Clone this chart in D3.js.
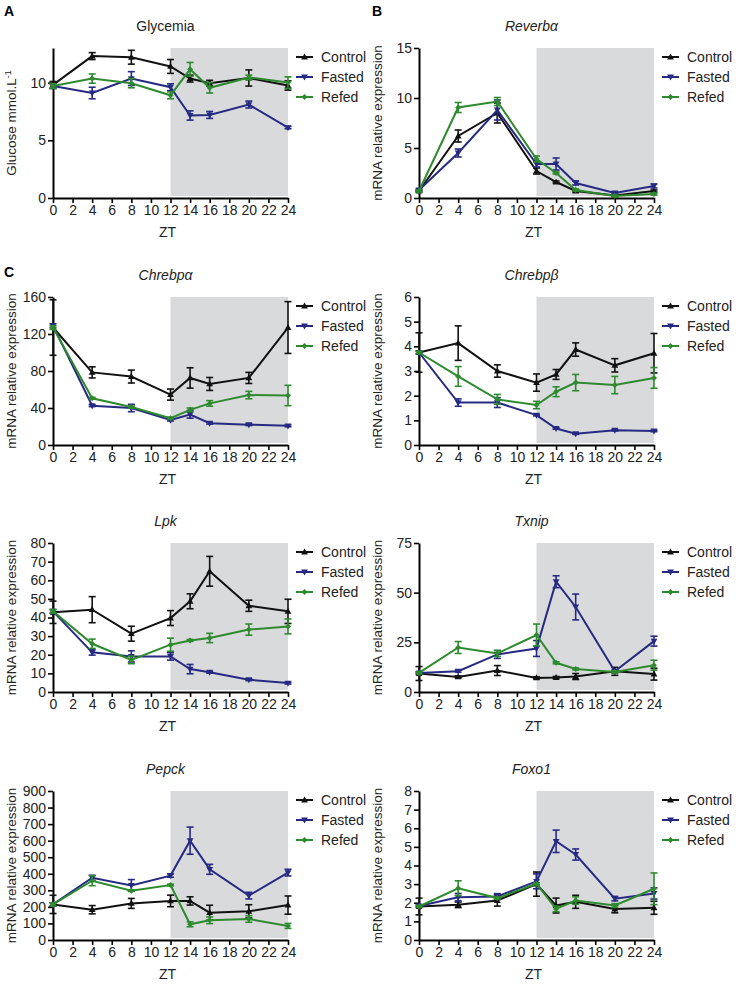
<!DOCTYPE html>
<html>
<head>
<meta charset="utf-8">
<script src="https://cdn.jsdelivr.net/npm/d3@7"></script>
<style>
  html, body { margin: 0; padding: 0; background: #fff; }
  svg { display: block; font-family: Arial, "Liberation Sans", Helvetica, sans-serif; }
</style>
</head>
<body>
<svg id="chart" width="736" height="997"></svg>
<script>
// ---------- DATA ----------
const zt = [0, 4, 8, 12, 14, 16, 20, 24];
const xTicks = [0, 2, 4, 6, 8, 10, 12, 14, 16, 18, 20, 22, 24];
const seriesNames = ["Control", "Fasted", "Refed"];

// Glycemia (mmol/L)
const glyControl    = [9.8, 12.3, 12.2, 11.4, 10.35, 9.95, 10.4, 9.75];
const glyControlErr = [0.3, 0.3, 0.6, 0.6, 0.3, 0.25, 0.7, 0.4];
const glyFasted     = [9.7, 9.1, 10.35, 9.6, 7.15, 7.2, 8.1, 6.1];
const glyFastedErr  = [0.2, 0.5, 0.6, 0.3, 0.4, 0.3, 0.3, 0.1];
const glyRefed      = [9.7, 10.35, 9.95, 8.9, 11.15, 9.55, 10.45, 10.0];
const glyRefedErr   = [0.2, 0.4, 0.4, 0.3, 0.6, 0.45, 0.2, 0.5];

// Reverbα
const revControl    = [0.7, 6.2, 8.5, 2.7, 1.6, 0.7, 0.25, 0.7];
const revControlErr = [0.1, 0.6, 1.0, 0.3, 0.1, 0.1, 0.1, 0.1];
const revFasted     = [0.8, 4.5, 8.8, 3.4, 3.4, 1.5, 0.5, 1.2];
const revFastedErr  = [0.1, 0.4, 1.0, 0.3, 0.6, 0.2, 0.1, 0.2];
const revRefed      = [0.7, 9.05, 9.65, 3.9, 2.5, 0.8, 0.2, 0.4];
const revRefedErr   = [0.1, 0.5, 0.4, 0.3, 0.1, 0.1, 0.1, 0.1];

// Chrebpα
const craControl    = [127, 78.5, 74, 54.5, 72.5, 66, 72.5, 127];
const craControlErr = [30, 6, 7, 6, 11, 7, 6, 28];
const craFasted     = [129, 42.5, 40, 27, 33, 23.6, 22, 20.7];
const craFastedErr  = [2, 1, 4, 1, 4, 1, 1, 1];
const craRefed      = [127, 50.5, 41, 29, 38, 45, 54, 53.5];
const craRefedErr   = [2, 1, 1, 1, 2, 3, 4, 11];

// Chrebpβ
const crbControl    = [3.75, 4.13, 3.0, 2.53, 2.86, 3.87, 3.23, 3.72];
const crbControlErr = [0.8, 0.7, 0.25, 0.35, 0.2, 0.27, 0.27, 0.8];
const crbFasted     = [3.75, 1.72, 1.72, 1.21, 0.67, 0.46, 0.6, 0.57];
const crbFastedErr  = [0.05, 0.15, 0.2, 0.03, 0.03, 0.03, 0.03, 0.03];
const crbRefed      = [3.75, 2.78, 1.85, 1.62, 2.16, 2.53, 2.43, 2.72];
const crbRefedErr   = [0.05, 0.4, 0.2, 0.15, 0.2, 0.33, 0.35, 0.42];

// Lpk
const lpkControl    = [42.8, 44.2, 31.3, 39.7, 48.7, 64.8, 46.3, 43.3];
const lpkControlErr = [6, 7, 4, 4, 4, 8, 3, 6.5];
const lpkFasted     = [43.3, 21.3, 19.1, 19.1, 12.3, 10.6, 6.6, 4.8];
const lpkFastedErr  = [1, 1.5, 3, 2, 2.5, 0.5, 0.5, 0.5];
const lpkRefed      = [43.3, 25.9, 17.2, 25.4, 27.7, 29.0, 33.5, 35.2];
const lpkRefedErr   = [1, 2.5, 2, 3.5, 0.5, 2.5, 3, 4];

// Txnip
const txnControl    = [9.3, 7.6, 10.8, 7.1, 7.3, 7.8, 10.4, 9.0];
const txnControlErr = [3.5, 0.5, 2.5, 0.5, 0.5, 1.5, 2, 3];
const txnFasted     = [9.6, 10.5, 18.9, 21.9, 55.5, 42.8, 10.4, 25.6];
const txnFastedErr  = [0.5, 0.5, 2, 4, 3, 6.5, 0.5, 2.5];
const txnRefed      = [9.6, 22.4, 19.4, 28.7, 14.7, 11.6, 10.1, 13.5];
const txnRefedErr   = [0.5, 3, 1.5, 5.5, 0.5, 0.5, 0.5, 2.5];

// Pepck
const pepControl    = [215, 183, 221, 236, 236, 165, 173, 211];
const pepControlErr = [55, 25, 30, 35, 25, 45, 40, 55];
const pepFasted     = [215, 376, 330, 389, 600, 427, 268, 407];
const pepFastedErr  = [10, 15, 35, 10, 82, 30, 20, 20];
const pepRefed      = [215, 358, 298, 332, 95, 119, 127, 85];
const pepRefedErr   = [10, 30, 5, 5, 15, 20, 20, 15];

// Foxo1
const foxControl    = [1.8, 1.89, 2.12, 3.0, 1.85, 2.05, 1.66, 1.73];
const foxControlErr = [0.45, 0.15, 0.3, 0.65, 0.4, 0.35, 0.2, 0.35];
const foxFasted     = [1.83, 2.3, 2.34, 3.15, 5.3, 4.59, 2.22, 2.5];
const foxFastedErr  = [0.05, 0.2, 0.15, 0.4, 0.6, 0.3, 0.12, 0.3];
const foxRefed      = [1.8, 2.78, 2.25, 3.02, 1.67, 2.12, 1.85, 2.75];
const foxRefedErr   = [0.05, 0.4, 0.05, 0.05, 0.15, 0.2, 0.1, 0.85];

// Panels
const panelTitles  = ["Glycemia", "Reverbα", "Chrebpα", "Chrebpβ", "Lpk", "Txnip", "Pepck", "Foxo1"];
const panelLetters = ["A", "B", "C", "", "", "", "", ""];
const yMaxes       = [13, 15, 160, 6, 80, 75, 900, 8];
const yTickSets    = [
  [0, 5, 10], [0, 5, 10, 15], [0, 40, 80, 120, 160], [0, 1, 2, 3, 4, 5, 6],
  [0, 10, 20, 30, 40, 50, 60, 70, 80], [0, 25, 50, 75],
  [0, 100, 200, 300, 400, 500, 600, 700, 800, 900], [0, 1, 2, 3, 4, 5, 6, 7, 8]
];
const panelValues = [
  [glyControl, glyFasted, glyRefed], [revControl, revFasted, revRefed],
  [craControl, craFasted, craRefed], [crbControl, crbFasted, crbRefed],
  [lpkControl, lpkFasted, lpkRefed], [txnControl, txnFasted, txnRefed],
  [pepControl, pepFasted, pepRefed], [foxControl, foxFasted, foxRefed]
];
const panelErrors = [
  [glyControlErr, glyFastedErr, glyRefedErr], [revControlErr, revFastedErr, revRefedErr],
  [craControlErr, craFastedErr, craRefedErr], [crbControlErr, crbFastedErr, crbRefedErr],
  [lpkControlErr, lpkFastedErr, lpkRefedErr], [txnControlErr, txnFastedErr, txnRefedErr],
  [pepControlErr, pepFastedErr, pepRefedErr], [foxControlErr, foxFastedErr, foxRefedErr]
];

// ---------- LAYOUT / STYLE ----------
const colors = { Control: "#111111", Fasted: "#262a82", Refed: "#2e8a2e" };
const colLeft = [53, 419];
const plotW = 235;
const rowTop = [48, 297, 543, 791];
const rowBottom = [198, 445, 692, 940];
const letterPos = [[4, 16], [372, 16], [4, 277]];
const darkStart = 12, darkEnd = 24;

const svg = d3.select("#chart");

function drawMarker(g, name, x, y, color) {
  if (name === "Control") {
    g.append("path").attr("d", `M${x},${y - 3.6}L${x + 3.4},${y + 2.4}L${x - 3.4},${y + 2.4}Z`).attr("fill", color);
  } else if (name === "Fasted") {
    g.append("path").attr("d", `M${x},${y + 3.6}L${x + 3.4},${y - 2.4}L${x - 3.4},${y - 2.4}Z`).attr("fill", color);
  } else {
    g.append("path").attr("d", `M${x},${y - 3}L${x + 3},${y}L${x},${y + 3}L${x - 3},${y}Z`).attr("fill", color);
  }
}

panelTitles.forEach((title, i) => {
  const col = i % 2, row = Math.floor(i / 2);
  const x0 = colLeft[col], x1 = x0 + plotW;
  const top = rowTop[row], bottom = rowBottom[row];
  const x = d3.scaleLinear().domain([0, 24]).range([x0, x1]);
  const y = d3.scaleLinear().domain([0, yMaxes[i]]).range([bottom, top]);
  const g = svg.append("g");

  // dark phase shading
  g.append("rect")
    .attr("x", x(darkStart)).attr("y", top)
    .attr("width", x(darkEnd) - x(darkStart)).attr("height", bottom - top - 2)
    .attr("fill", "#d9dadc");

  // axes
  const xAxis = d3.axisBottom(x).tickValues(xTicks).tickFormat(d3.format("d"))
    .tickSize(5).tickSizeOuter(0).tickPadding(2);
  const yAxis = d3.axisLeft(y).tickValues(yTickSets[i]).tickFormat(d3.format("d"))
    .tickSize(5).tickSizeOuter(0).tickPadding(2);
  const gx = g.append("g").attr("transform", `translate(0,${bottom})`).call(xAxis);
  const gy = g.append("g").attr("transform", `translate(${x0},0)`).call(yAxis);
  [gx, gy].forEach(a => {
    a.select(".domain").attr("stroke", "#000").attr("stroke-width", 2);
    a.selectAll(".tick line").attr("stroke", "#000").attr("stroke-width", 1.6);
    a.selectAll(".tick text").attr("fill", "#222").style("font-size", "14px");
  });

  // axis titles
  g.append("text").attr("x", (x0 + x1) / 2 - 3).attr("y", bottom + 39)
    .attr("text-anchor", "middle").style("font-size", "14px").attr("fill", "#222").text("ZT");
  const yl = g.append("text")
    .attr("transform", `translate(${x0 - 37},${(top + bottom) / 2}) rotate(-90)`)
    .attr("text-anchor", "middle").style("font-size", "13.5px").attr("fill", "#222");
  if (i === 0) {
    yl.append("tspan").text("Glucose mmol.L");
    yl.append("tspan").attr("dy", -5).style("font-size", "9px").text("-1");
  } else {
    yl.text("mRNA relative expression");
  }

  // panel title
  g.append("text").attr("x", (x0 + x1) / 2 - 5).attr("y", top - 17)
    .attr("text-anchor", "middle").style("font-size", "14px")
    .style("font-style", i === 0 ? "normal" : "italic").attr("fill", "#222").text(title);

  // panel letter
  if (panelLetters[i]) {
    g.append("text").attr("x", letterPos[i][0]).attr("y", letterPos[i][1])
      .style("font-size", "14px").style("font-weight", "bold").attr("fill", "#000").text(panelLetters[i]);
  }

  // series
  const line = d3.line().x((d, k) => x(zt[k])).y(d => y(d));
  seriesNames.forEach((name, s) => {
    const vals = panelValues[i][s], errs = panelErrors[i][s];
    const color = colors[name];
    const sg = g.append("g");
    sg.append("path").datum(vals).attr("d", line)
      .attr("fill", "none").attr("stroke", color).attr("stroke-width", 2);
    vals.forEach((v, k) => {
      const cx = x(zt[k]);
      const e = errs[k];
      const yHi = y(Math.min(v + e, yMaxes[i])), yLo = y(Math.max(v - e, 0));
      sg.append("line").attr("x1", cx).attr("x2", cx).attr("y1", yHi).attr("y2", yLo)
        .attr("stroke", color).attr("stroke-width", 1.6);
      [yHi, yLo].forEach(yy => sg.append("line").attr("x1", cx - 3.5).attr("x2", cx + 3.5)
        .attr("y1", yy).attr("y2", yy).attr("stroke", color).attr("stroke-width", 1.6));
      drawMarker(sg, name, cx, y(v), color);
    });
  });

  // legend
  seriesNames.forEach((name, s) => {
    const ly = top + 9 + s * 20;
    const lx = x1 + 8;
    g.append("line").attr("x1", lx).attr("x2", lx + 17).attr("y1", ly).attr("y2", ly)
      .attr("stroke", colors[name]).attr("stroke-width", 2);
    drawMarker(g, name, lx + 8.5, ly, colors[name]);
    g.append("text").attr("x", lx + 25).attr("y", ly + 5)
      .style("font-size", "14px").attr("fill", "#222").text(name);
  });
});
</script>
</body>
</html>
